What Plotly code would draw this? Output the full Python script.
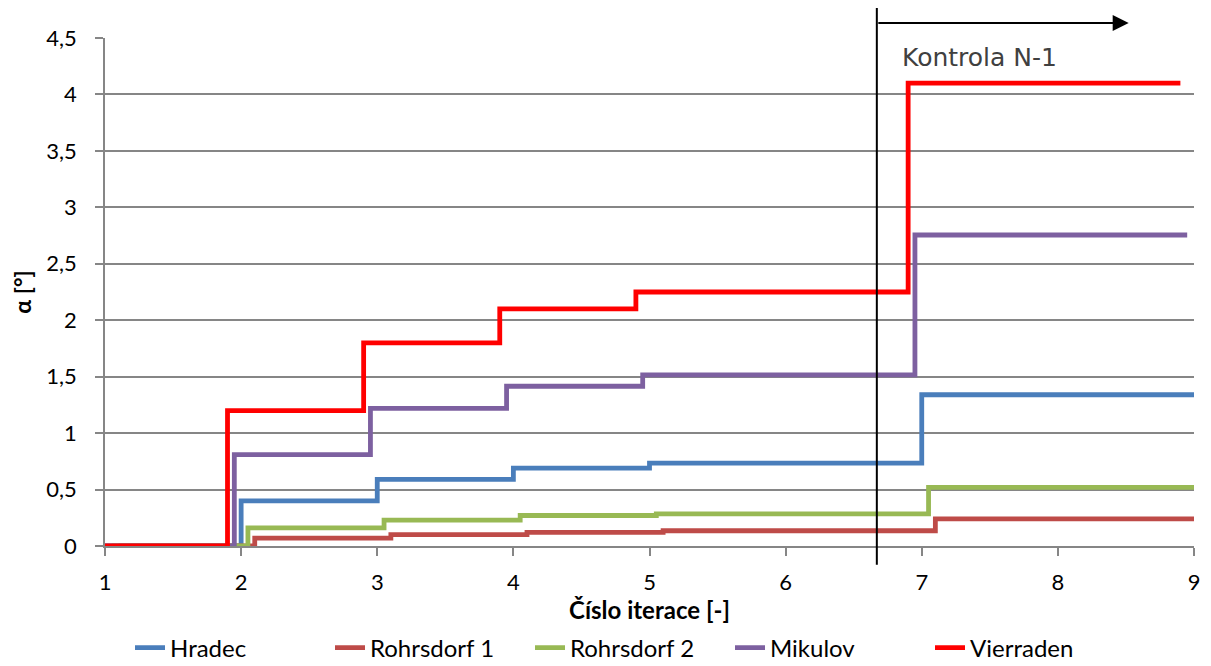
import plotly.graph_objects as go

iterations = [1, 2, 3, 4, 5, 6, 7, 8, 9]
series_names = ["Hradec", "Rohrsdorf 1", "Rohrsdorf 2", "Mikulov", "Vierraden"]
hradec = [0, 0.40, 0.59, 0.69, 0.735, 0.735, 1.34, 1.34, 1.34]
rohrsdorf1 = [0, 0.07, 0.10, 0.12, 0.135, 0.135, 0.24, 0.24, 0.24]
rohrsdorf2 = [0, 0.16, 0.23, 0.27, 0.285, 0.285, 0.52, 0.52, 0.52]
mikulov = [0, 0.81, 1.22, 1.415, 1.515, 1.515, 2.755, 2.755, 2.755]
vierraden = [0, 1.20, 1.80, 2.10, 2.25, 2.25, 4.10, 4.10, 4.10]
x_offsets = [0.0, 0.1, 0.05, -0.05, -0.1]
colors = ["#4A7EBB", "#BE4B48", "#98B954", "#7D60A0", "#FF0000"]

check_x = 6.67
arrow_end_x = 8.52
check_label = "Kontrola N-1"

fig = go.Figure()
for name, vals, off, col in zip(series_names,
                                [hradec, rohrsdorf1, rohrsdorf2, mikulov, vierraden],
                                x_offsets, colors):
    xs = [min(max(i + off, 1), 9) for i in iterations]
    fig.add_trace(go.Scatter(x=xs, y=vals, mode="lines", name=name,
                             line=dict(color=col, width=4.8, shape="hv"),
                             cliponaxis=False))

fig.add_shape(type="line", xref="x", yref="paper", x0=check_x, x1=check_x,
              y0=-0.037, y1=1.059, line=dict(color="black", width=2))
fig.add_annotation(x=arrow_end_x, y=1.0295, xref="x", yref="paper",
                   ax=check_x, ay=0, axref="x", ayref="pixel",
                   showarrow=True, arrowhead=2, arrowsize=1.6, arrowwidth=2,
                   arrowcolor="black", text="")
fig.add_annotation(x=6.84, y=4.33, xref="x", yref="y", text=check_label,
                   showarrow=False, xanchor="left", yanchor="middle",
                   font=dict(family="DejaVu Sans", size=25, color="#404040"))

fig.update_layout(
    width=1211, height=666,
    margin=dict(l=105, r=17, t=38, b=120),
    paper_bgcolor="white", plot_bgcolor="white",
    separators=", ",
    font=dict(family="Lato", size=22, color="black"),
    showlegend=True,
    legend=dict(orientation="h", x=(135 - 5 - 105) / 1089, xanchor="left",
                y=0.027, yanchor="middle", yref="container",
                font=dict(size=24), tracegroupgap=0,
                entrywidth=155, entrywidthmode="pixels"),
)
fig.update_xaxes(range=[1, 9], dtick=1, showgrid=False, showline=True,
                 linecolor="#868686", linewidth=1.5, ticks="outside", ticklen=8,
                 tickcolor="#868686", tickwidth=1.5, zeroline=False,
                 ticklabelstandoff=8, automargin=False,
                 title=dict(text="<b>Číslo iterace [-]</b>", font=dict(size=24), standoff=2))
fig.update_yaxes(range=[0, 4.5], dtick=0.5, showgrid=True, gridcolor="#868686",
                 gridwidth=1.5, showline=True, linecolor="#868686", linewidth=1.5,
                 ticks="outside", ticklen=8, tickcolor="#868686", tickwidth=1.5,
                 zeroline=False, ticklabelstandoff=14, automargin=False,
                 title=dict(text="<b>α [°]</b>", font=dict(size=23), standoff=8))

fig.write_html("out.html", post_script="document.body.style.margin='0';",
               config={"displayModeBar": False})
